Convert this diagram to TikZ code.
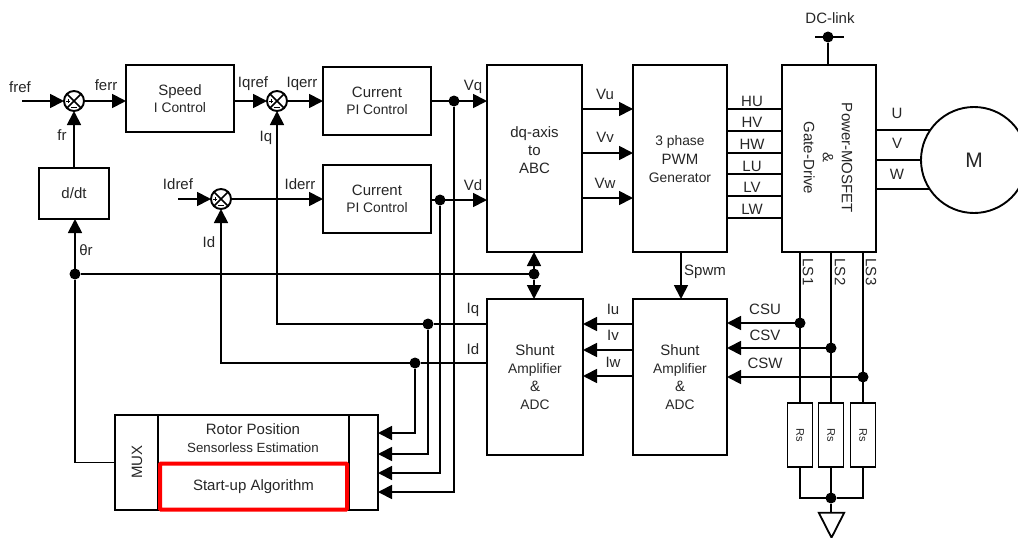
\documentclass[tikz,border=0pt]{standalone}
\usepackage{fontspec}
\setmainfont{Liberation Sans}
\usetikzlibrary{arrows.meta,shapes.geometric}
\begin{document}
\begin{tikzpicture}[
          x=1pt,y=-1pt,
          line width=1.8pt,
          blk/.style={draw,line width=1.9pt,rectangle,outer sep=0pt,inner sep=0pt,align=center,text=black!85,font=\fontsize{15}{19}\selectfont},
          sumx/.style={draw,line width=1.9pt,circle,outer sep=0pt,inner sep=0pt,minimum size=20pt,path picture={
              \draw[line width=1.7pt] (path picture bounding box.north west) -- (path picture bounding box.south east);
              \draw[line width=1.7pt] (path picture bounding box.north east) -- (path picture bounding box.south west);
              \draw[line width=.9pt] ([xshift=-8pt]path picture bounding box.center) -- ++(4pt,0);
              \draw[line width=.9pt] ([xshift=-6pt,yshift=-2pt]path picture bounding box.center) -- ++(0,4pt);
              \draw[line width=1pt] ([xshift=-3pt,yshift=-6.5pt]path picture bounding box.center) -- ++(6pt,0);}},
          dot/.style={circle,fill=black,draw=none,inner sep=0pt,minimum size=11pt,outer sep=0pt},
          lbl/.style={inner sep=0pt,text=black!85,font=\fontsize{15}{17}\selectfont},
          arr/.style={-{Triangle[length=14pt,width=14pt]}},
          rs/.style={blk,minimum width=25pt,minimum height=64pt}
          ]
          \useasboundingbox (0,0) rectangle (1018,538);
          % blocks
          \node[blk,minimum width=108pt,minimum height=67pt] (speed) at (180,98.5) {Speed\\[-2pt]{\fontsize{13.8}{16}\selectfont I Control}};
          \node[blk,minimum width=108pt,minimum height=68pt] (curq) at (377,101) {Current\\[-2pt]{\fontsize{13.8}{16}\selectfont PI Control}};
          \node[blk,minimum width=108pt,minimum height=68pt] (curd) at (377,199) {Current\\[-2pt]{\fontsize{13.8}{16}\selectfont PI Control}};
          \node[blk,minimum width=70pt,minimum height=51pt] (ddt) at (74,193.5) {d/dt};
          \node[blk,minimum width=95pt,minimum height=187pt] (dq) at (534.5,158.5) {};
          \node[lbl,align=center] (dqt) at (534.5,150) {dq-axis\\[1pt]to\\[1pt]ABC};
          \node[blk,minimum width=94pt,minimum height=187pt] (pwm) at (680,158.5) {};
          \node[lbl,align=center] (pwmt) at (680,159) {{\fontsize{13.8}{16}\selectfont 3 phase}\\[2pt]PWM\\[1pt]{\fontsize{13.8}{16}\selectfont Generator}};
          \node[blk,minimum width=94pt,minimum height=187pt] (power) at (829,158.5) {};
          \node[lbl,rotate=-90,align=center] (powert) at (828,158) {Power-MOSFET\\[2pt]\&\\[2pt]Gate-Drive};
          \node[blk,minimum width=96pt,minimum height=156pt] (shunta) at (535,377) {Shunt\\[-1pt]{\fontsize{13.8}{16}\selectfont Amplifier}\\[-1pt]\&\\[-1pt]{\fontsize{13.8}{16}\selectfont ADC}};
          \node[blk,minimum width=94pt,minimum height=156pt] (shuntb) at (680,377) {Shunt\\[-1pt]{\fontsize{13.8}{16}\selectfont Amplifier}\\[-1pt]\&\\[-1pt]{\fontsize{13.8}{16}\selectfont ADC}};
          \node[blk,circle,minimum size=106pt,font=\fontsize{21}{24}\selectfont] (motor) at (974,160) {M};
          % rotor position block
          \node[blk,line width=1.5pt,minimum width=263pt,minimum height=95pt] (rotor) at (246.5,462.5) {};
          \node[blk,line width=1.5pt,minimum width=43pt,minimum height=95pt] (mux) at (136.5,462.5) {};
          \node[lbl,rotate=90] (muxt) at (137,462) {MUX};
          \node[blk,line width=1.5pt,minimum width=29pt,minimum height=95pt] (inp) at (363.5,462.5) {};
          \node[lbl] (rotort) at (253,429) {Rotor Position};
          \node[lbl,font=\fontsize{13.3}{16}\selectfont] (senst) at (253,448) {Sensorless Estimation};
          \node[draw=red,line width=4pt,rounded corners=1pt,minimum width=187pt,minimum height=46pt,outer sep=0pt,inner sep=0pt,lbl] (startup) at (253.5,486.5) {Start-up Algorithm};
          % summing points
          \node[sumx] (sumf) at (74,101) {};
          \node[sumx] (sumq) at (277,101) {};
          \node[sumx] (sumd) at (221,199) {};
          % junctions
          \node[dot] (dvq) at (454,101) {};
          \node[dot] (dvd) at (440,200) {};
          \node[dot] (dth) at (75,274) {};
          \node[dot] (dbus) at (534,274) {};
          \node[dot] (diq) at (428,324) {};
          \node[dot] (did) at (415,363) {};
          \node[dot] (dcsu) at (800,323) {};
          \node[dot] (dcsv) at (831,348) {};
          \node[dot] (dcsw) at (863,377) {};
          \node[dot] (dgnd) at (831,498) {};
          \node[dot] (ddc) at (828,37) {};
          % free ends
          \coordinate (fref) at (22,101);
          \coordinate (idref) at (178,199);
          \coordinate (dcl) at (815,37);
          \coordinate (dcr) at (844,37);
          % shunt resistors
          \node[rs] (rsa) at (800,435) {};
          \node[rs] (rsb) at (831,435) {};
          \node[rs] (rsc) at (863,435) {};
          \node[lbl,rotate=-90,font=\fontsize{11}{12}\selectfont] (rsat) at (800,435) {Rs};
          \node[lbl,rotate=-90,font=\fontsize{11}{12}\selectfont] (rsbt) at (831,435) {Rs};
          \node[lbl,rotate=-90,font=\fontsize{11}{12}\selectfont] (rsct) at (863,435) {Rs};
          \node[draw,line width=1.8pt,isosceles triangle,isosceles triangle apex angle=54,shape border rotate=-90,minimum size=0pt,inner sep=6.3pt,outer sep=0pt] (gnd) at (831.5,519) {};
          % speed and current loops
          \draw[arr] (fref) -- (sumf);
          \draw[arr] (sumf) -- (sumf -| speed.west);
          \draw[arr] (sumf -| speed.east) -- (sumq);
          \draw[arr] (sumq) -- (curq);
          \draw[arr] (idref) -- (sumd);
          \draw[arr] (sumd) -- (curd);
          \draw[arr] (ddt.north -| sumf) -- (sumf);
          \draw[arr] (dth) -- (dth |- ddt.south);
          \draw (dth) -- (dth |- rotor.center) -- (mux.west |- rotor.center);
          \draw (dth) -- (dbus);
          % voltages
          \draw[arr] (curq) -- (curq -| dq.west);
          \draw[arr] (dvd -| curd.east) -- (dvd -| dq.west);
          \draw[arr] (dvq) |- (inp.east |- 0,492);
          \draw[arr] (dvd) |- (inp.east |- 0,473);
          \draw[arr] (dq.east |- 0,109) -- (pwm.west |- 0,109);
          \draw[arr] (dq.east |- 0,153) -- (pwm.west |- 0,153);
          \draw[arr] (dq.east |- 0,198) -- (pwm.west |- 0,198);
          % transforms and currents
          \draw[arr] (dbus) -- (dbus |- dq.south);
          \draw[arr] (dbus) -- (dbus |- shunta.north);
          \draw[arr] (pwm.south -| 681,0) -- (shuntb.north -| 681,0);
          \draw[arr] (shuntb.west |- 0,324) -- (shunta.east |- 0,324);
          \draw[arr] (shuntb.west |- 0,350) -- (shunta.east |- 0,350);
          \draw[arr] (shuntb.west |- 0,376) -- (shunta.east |- 0,376);
          \draw (shunta.west |- diq) -- (diq);
          \draw[arr] (diq) -- (sumq |- diq) -- (sumq);
          \draw (shunta.west |- did) -- (did);
          \draw[arr] (did) -- (sumd |- did) -- (sumd);
          \draw[arr] (diq) |- (inp.east |- 0,454);
          \draw[arr] (did) |- (inp.east |- 0,433);
          % gate signals
          \draw (pwm.east |- 0,109) -- (power.west |- 0,109);
          \draw (pwm.east |- 0,131) -- (power.west |- 0,131);
          \draw (pwm.east |- 0,153) -- (power.west |- 0,153);
          \draw (pwm.east |- 0,174) -- (power.west |- 0,174);
          \draw (pwm.east |- 0,196) -- (power.west |- 0,196);
          \draw (pwm.east |- 0,218) -- (power.west |- 0,218);
          % motor phases
          \draw (power.east |- motor.145.5) -- (motor.145.5);
          \draw (power.east |- motor.west) -- (motor.west);
          \draw (power.east |- motor.213) -- (motor.213);
          % DC link
          \draw (ddc) -- (ddc |- power.north);
          \draw[line width=1.5pt] (dcl) -- (dcr);
          % low side
          \draw (dcsu |- power.south) -- (rsa);
          \draw (dcsv |- power.south) -- (rsb);
          \draw (dcsw |- power.south) -- (rsc);
          \draw[arr] (dcsu) -- (shuntb.east |- dcsu);
          \draw[arr] (dcsv) -- (shuntb.east |- dcsv);
          \draw[arr] (dcsw) -- (shuntb.east |- dcsw);
          \draw (rsa) |- (dgnd);
          \draw (rsc) |- (dgnd);
          \draw (rsb) -- (dgnd);
          \draw (dgnd) -- (gnd.left corner -| dgnd);
          % labels
          \node[lbl] (lfref) at (20,87) {fref};
          \node[lbl] (lferr) at (106,85) {ferr};
          \node[lbl] (lfr) at (62,135) {fr};
          \node[lbl] (lth) at (86,250) {θr};
          \node[lbl] (liqref) at (253,84) {Iqref};
          \node[lbl] (liqerr) at (302,84) {Iqerr};
          \node[lbl] (liqa) at (266,138) {Iq};
          \node[lbl] (lidref) at (178,184) {Idref};
          \node[lbl] (lida) at (209,242) {Id};
          \node[lbl] (liderr) at (300,184) {Iderr};
          \node[lbl] (lvq) at (473,87) {Vq};
          \node[lbl] (lvd) at (473,185) {Vd};
          \node[lbl] (lvu) at (605,94) {Vu};
          \node[lbl] (lvv) at (605,137) {Vv};
          \node[lbl] (lvw) at (605,183) {Vw};
          \node[lbl] (lspwm) at (705,272) {Spwm};
          \node[lbl] (liqb) at (473,310) {Iq};
          \node[lbl] (lidb) at (473,349) {Id};
          \node[lbl] (liu) at (613,309) {Iu};
          \node[lbl] (liv) at (613,335) {Iv};
          \node[lbl] (liw) at (613,362) {Iw};
          \node[lbl] (lhu) at (752,101) {HU};
          \node[lbl] (lhv) at (752,122) {HV};
          \node[lbl] (lhw) at (752,144) {HW};
          \node[lbl] (llu) at (752,166) {LU};
          \node[lbl] (llv) at (752,187) {LV};
          \node[lbl] (llw) at (752,209) {LW};
          \node[lbl] (lu) at (897,113) {U};
          \node[lbl] (lv) at (897,143) {V};
          \node[lbl] (lw) at (897,174) {W};
          \node[lbl] (ldc) at (830,18) {DC-link};
          \node[lbl,rotate=-90] (lls1) at (808,272) {LS1};
          \node[lbl,rotate=-90] (lls2) at (840,272) {LS2};
          \node[lbl,rotate=-90] (lls3) at (871,272) {LS3};
          \node[lbl] (lcsu) at (765,309) {CSU};
          \node[lbl] (lcsv) at (765,335) {CSV};
          \node[lbl] (lcsw) at (765,363) {CSW};
        \end{tikzpicture}
\end{document}
